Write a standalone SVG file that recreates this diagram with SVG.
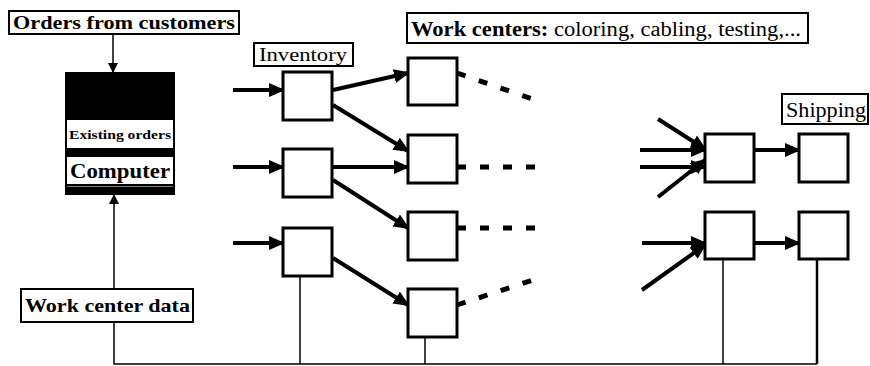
<svg xmlns="http://www.w3.org/2000/svg" width="870" height="366" viewBox="0 0 870 366">
<style>
.lbl{fill:#fff;stroke:#000;stroke-width:2}
.box{fill:#fff;stroke:#000;stroke-width:3}
.t{font-family:"Liberation Serif","Times New Roman",serif;fill:#000}
.b{font-weight:bold}
.flow{stroke:#000;stroke-width:4;fill:none;marker-end:url(#ah)}
.thin{stroke:#000;stroke-width:1.5;fill:none}
.dash{stroke:#000;stroke-width:5;fill:none;stroke-dasharray:9 14}
</style>
<defs>
<marker id="ah" markerUnits="userSpaceOnUse" markerWidth="16" markerHeight="14" refX="14" refY="7" orient="auto">
<path d="M0,0 L16,7 L0,14 Z" fill="#000"/>
</marker>
<marker id="ahs" markerUnits="userSpaceOnUse" markerWidth="10" markerHeight="10" refX="9" refY="5" orient="auto">
<path d="M0,0 L10,5 L0,10 Z" fill="#000"/>
</marker>
</defs>
<rect width="870" height="366" fill="#fff"/>

<g id="connectors">
<line x1="113" y1="34" x2="113" y2="72" class="thin" marker-end="url(#ahs)"/>
<line x1="114" y1="289" x2="114" y2="195" class="thin" marker-end="url(#ahs)"/>
<polyline points="114,322 114,364 817,364" class="thin"/>
<line x1="300" y1="276" x2="300" y2="364" class="thin"/>
<line x1="425" y1="337" x2="425" y2="364" class="thin"/>
<line x1="723" y1="259" x2="723" y2="364" class="thin"/>
<line x1="817" y1="259" x2="817" y2="364" stroke="#000" stroke-width="2.5"/>
<line x1="233" y1="90" x2="283" y2="90" class="flow"/>
<line x1="233" y1="167" x2="283" y2="167" class="flow"/>
<line x1="233" y1="243" x2="283" y2="243" class="flow"/>
<line x1="333" y1="90" x2="408" y2="73" class="flow"/>
<line x1="333" y1="105" x2="408" y2="151" class="flow"/>
<line x1="333" y1="167" x2="408" y2="167" class="flow"/>
<line x1="333" y1="180" x2="408" y2="228" class="flow"/>
<line x1="333" y1="258" x2="408" y2="305" class="flow"/>
<line x1="457" y1="73" x2="538" y2="101" class="dash"/>
<line x1="457" y1="167" x2="540" y2="167" class="dash"/>
<line x1="457" y1="228" x2="540" y2="228" class="dash"/>
<line x1="457" y1="305" x2="536" y2="279" class="dash"/>
<line x1="658" y1="119" x2="705" y2="149" class="flow"/>
<line x1="640" y1="150" x2="705" y2="150" class="flow"/>
<line x1="640" y1="167" x2="705" y2="167" class="flow"/>
<line x1="658" y1="197" x2="705" y2="160" class="flow"/>
<line x1="754" y1="150" x2="799" y2="150" class="flow"/>
<line x1="642" y1="243" x2="705" y2="243" class="flow"/>
<line x1="642" y1="290" x2="705" y2="245" class="flow"/>
<line x1="754" y1="243" x2="799" y2="243" class="flow"/>
</g>

<g id="orders">
<rect x="9" y="11" width="230" height="23" class="lbl"/>
<text x="13" y="29" class="t b" font-size="19" textLength="222" lengthAdjust="spacingAndGlyphs">Orders from customers</text>
</g>

<g id="computer">
<rect x="65" y="72" width="110" height="123" fill="#000"/>
<rect x="67" y="120" width="106" height="28" fill="#fff"/>
<rect x="67" y="157" width="106" height="27" fill="#fff"/>
<rect x="67" y="186" width="106" height="1" fill="#fff" opacity="0.5"/>
<text x="120" y="139" class="t b" font-size="13" text-anchor="middle" textLength="102" lengthAdjust="spacingAndGlyphs">Existing orders</text>
<text x="120" y="178" class="t b" font-size="20" text-anchor="middle" textLength="100" lengthAdjust="spacingAndGlyphs">Computer</text>
</g>

<g id="workcenterdata">
<rect x="21" y="289" width="172" height="33" class="lbl"/>
<text x="25" y="312" class="t b" font-size="19" textLength="165" lengthAdjust="spacingAndGlyphs">Work center data</text>
</g>

<g id="inventory-label">
<rect x="254" y="43" width="99" height="23" class="lbl"/>
<text x="303" y="61" class="t" font-size="19" text-anchor="middle" textLength="88" lengthAdjust="spacingAndGlyphs">Inventory</text>
</g>

<g id="workcenters-label">
<rect x="407" y="13" width="401" height="30" class="lbl"/>
<text x="411" y="36" class="t" font-size="20" textLength="390" lengthAdjust="spacingAndGlyphs"><tspan class="b">Work centers:</tspan> coloring, cabling, testing,...</text>
</g>

<g id="shipping-label">
<rect x="782" y="94" width="86" height="30" class="lbl"/>
<text x="786" y="117" class="t" font-size="20" textLength="80" lengthAdjust="spacingAndGlyphs">Shipping</text>
</g>

<g id="inv1"><rect x="283" y="72" width="49" height="48" class="box"/></g>
<g id="inv2"><rect x="283" y="149" width="49" height="48" class="box"/></g>
<g id="inv3"><rect x="283" y="228" width="49" height="48" class="box"/></g>
<g id="wc1"><rect x="408" y="58" width="49" height="47" class="box"/></g>
<g id="wc2"><rect x="408" y="135" width="49" height="48" class="box"/></g>
<g id="wc3"><rect x="408" y="212" width="49" height="48" class="box"/></g>
<g id="wc4"><rect x="408" y="289" width="49" height="48" class="box"/></g>
<g id="final1"><rect x="705" y="134" width="49" height="48" class="box"/></g>
<g id="ship1"><rect x="799" y="134" width="49" height="48" class="box"/></g>
<g id="final2"><rect x="705" y="212" width="49" height="47" class="box"/></g>
<g id="ship2"><rect x="799" y="212" width="49" height="47" class="box"/></g>
</svg>
